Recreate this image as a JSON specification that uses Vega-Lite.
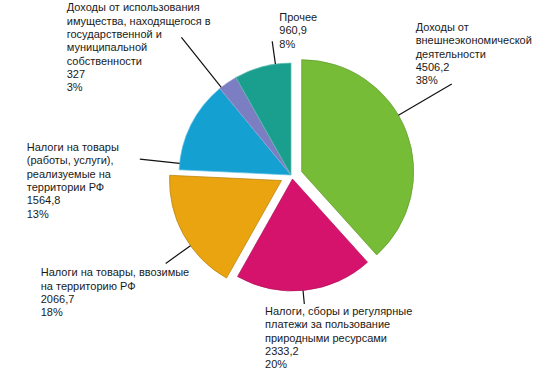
{
  "$schema": "https://vega.github.io/schema/vega-lite/v6.json",
  "width": 533,
  "height": 387,
  "autosize": {"type": "fit", "contains": "padding"},
  "padding": {"left": 49, "top": 0, "right": 0, "bottom": 35},
  "background": "white",
  "config": {"view": {"stroke": null}},
  "data": {
    "values": [
      {"cat": "Доходы от внешнеэкономической деятельности", "label": "Доходы от\nвнешнеэкономической\nдеятельности\n4506,2\n38%", "value": 4506.2, "order": 1},
      {"cat": "Налоги, сборы и регулярные платежи за пользование природными ресурсами", "label": "Налоги, сборы и регулярные\nплатежи за пользование\nприродными ресурсами\n2333,2\n20%", "value": 2333.2, "order": 2},
      {"cat": "Налоги на товары, ввозимые на территорию РФ", "label": "Налоги на товары, ввозимые\nна территорию РФ\n2066,7\n18%", "value": 2066.7, "order": 3},
      {"cat": "Налоги на товары (работы, услуги), реализуемые на территории РФ", "label": "Налоги на товары\n(работы, услуги),\nреализуемые на\nтерритории РФ\n1564,8\n13%", "value": 1564.8, "order": 4},
      {"cat": "Доходы от использования имущества, находящегося в государственной и муниципальной собственности", "label": "Доходы от использования\nимущества, находящегося в\nгосударственной и\nмуниципальной\nсобственности\n327\n3%", "value": 327, "order": 5},
      {"cat": "Прочее", "label": "Прочее\n960,9\n8%", "value": 960.9, "order": 6}
    ]
  },
  "transform": [
    {"stack": "value", "groupby": [], "sort": [{"field": "order", "order": "ascending"}], "as": ["v0", "v1"]}
  ],
  "encoding": {
    "theta": {"field": "v0", "type": "quantitative", "scale": {"nice": false, "zero": true}}
  },
  "layer": [
    {
      "transform": [{"filter": "datum.order >= 4"}],
      "mark": {"type": "arc", "outerRadius": 112, "strokeWidth": 0.7},
      "encoding": {
        "theta": {"field": "v1", "type": "quantitative"},
        "theta2": {"field": "v0"},
        "color": {"field": "order", "type": "nominal", "legend": null,
          "scale": {"domain": [1, 2, 3, 4, 5, 6], "range": ["#77BC37", "#D6136C", "#E9A40F", "#14A0D1", "#7B7EC1", "#1A9E8D"]}},
        "stroke": {"field": "order", "type": "nominal", "legend": null,
          "scale": {"domain": [1, 2, 3, 4, 5, 6], "range": ["#5E9A2A", "#B0105A", "#B5800C", "#5FC0E4", "#9A9CD2", "#5DBDB0"]}}
      }
    },
    {
      "transform": [{"filter": "datum.order == 1"}],
      "mark": {"type": "arc", "outerRadius": 112, "strokeWidth": 0.7, "xOffset": 10.7, "yOffset": -3.3},
      "encoding": {
        "theta": {"field": "v1", "type": "quantitative"},
        "theta2": {"field": "v0"},
        "color": {"field": "order", "type": "nominal", "legend": null},
        "stroke": {"field": "order", "type": "nominal", "legend": null}
      }
    },
    {
      "transform": [{"filter": "datum.order == 2"}],
      "mark": {"type": "arc", "outerRadius": 112, "strokeWidth": 0.7, "xOffset": 1.5, "yOffset": 4},
      "encoding": {
        "theta": {"field": "v1", "type": "quantitative"},
        "theta2": {"field": "v0"},
        "color": {"field": "order", "type": "nominal", "legend": null},
        "stroke": {"field": "order", "type": "nominal", "legend": null}
      }
    },
    {
      "transform": [{"filter": "datum.order == 3"}],
      "mark": {"type": "arc", "outerRadius": 112, "strokeWidth": 0.7, "xOffset": -9.5, "yOffset": 5.5},
      "encoding": {
        "theta": {"field": "v1", "type": "quantitative"},
        "theta2": {"field": "v0"},
        "color": {"field": "order", "type": "nominal", "legend": null},
        "stroke": {"field": "order", "type": "nominal", "legend": null}
      }
    },
    {
      "transform": [{"filter": "datum.order == 1"}],
      "layer": [
        {"mark": {"type": "arc", "filled": false, "stroke": "#111111", "strokeWidth": 1.2, "innerRadius": 112, "outerRadius": 173.8, "thetaOffset": 1.042, "theta2Offset": 1.042, "xOffset": 10.7, "yOffset": -3.3},
         "encoding": {"theta2": {"field": "v0"}}},
        {"mark": {"type": "text", "radius": 173.8, "thetaOffset": 1.042, "align": "left", "baseline": "top", "dx": -25.4, "dy": -65.3, "lineBreak": "\n", "lineHeight": 13.3, "font": "Liberation Sans", "fontSize": 11, "color": "#1a1a1a"},
         "encoding": {"text": {"field": "label"}}}
      ]
    },
    {
      "transform": [{"filter": "datum.order == 2"}],
      "layer": [
        {"mark": {"type": "arc", "filled": false, "stroke": "#111111", "strokeWidth": 1.2, "innerRadius": 112, "outerRadius": 125.6, "thetaOffset": 0.6395, "theta2Offset": 0.6395, "xOffset": 1.5, "yOffset": 4},
         "encoding": {"theta2": {"field": "v0"}}},
        {"mark": {"type": "text", "radius": 125.6, "thetaOffset": 0.6395, "align": "left", "baseline": "top", "dx": -37.8, "dy": 6, "lineBreak": "\n", "lineHeight": 13.3, "font": "Liberation Sans", "fontSize": 11, "color": "#1a1a1a"},
         "encoding": {"text": {"field": "label"}}}
      ]
    },
    {
      "transform": [{"filter": "datum.order == 3"}],
      "layer": [
        {"mark": {"type": "arc", "filled": false, "stroke": "#111111", "strokeWidth": 1.2, "innerRadius": 112, "outerRadius": 142.4, "thetaOffset": 0.4365, "theta2Offset": 0.4365, "xOffset": -9.5, "yOffset": 5.5},
         "encoding": {"theta2": {"field": "v0"}}},
        {"mark": {"type": "text", "radius": 142.4, "thetaOffset": 0.4365, "align": "left", "baseline": "top", "dx": -134.5, "dy": 9.6, "lineBreak": "\n", "lineHeight": 13.3, "font": "Liberation Sans", "fontSize": 11, "color": "#1a1a1a"},
         "encoding": {"text": {"field": "label"}}}
      ]
    },
    {
      "transform": [{"filter": "datum.order == 4"}],
      "layer": [
        {"mark": {"type": "arc", "filled": false, "stroke": "#111111", "strokeWidth": 1.2, "innerRadius": 112, "outerRadius": 152, "thetaOffset": 0.0583, "theta2Offset": 0.0583},
         "encoding": {"theta2": {"field": "v0"}}},
        {"mark": {"type": "text", "radius": 152, "thetaOffset": 0.0583, "align": "left", "baseline": "top", "dx": -113.1, "dy": -17.1, "lineBreak": "\n", "lineHeight": 13.3, "font": "Liberation Sans", "fontSize": 11, "color": "#1a1a1a"},
         "encoding": {"text": {"field": "label"}}}
      ]
    },
    {
      "transform": [{"filter": "datum.order == 5"}],
      "layer": [
        {"mark": {"type": "arc", "filled": false, "stroke": "#111111", "strokeWidth": 1.2, "innerRadius": 112, "outerRadius": 176, "thetaOffset": 0.0162, "theta2Offset": 0.0162},
         "encoding": {"theta2": {"field": "v0"}}},
        {"mark": {"type": "text", "radius": 176, "thetaOffset": 0.0162, "align": "left", "baseline": "top", "dx": -114.7, "dy": -34.8, "lineBreak": "\n", "lineHeight": 13.3, "font": "Liberation Sans", "fontSize": 11, "color": "#1a1a1a"},
         "encoding": {"text": {"field": "label"}}}
      ]
    },
    {
      "transform": [{"filter": "datum.order == 6"}],
      "layer": [
        {"mark": {"type": "arc", "filled": false, "stroke": "#111111", "strokeWidth": 1.2, "innerRadius": 112, "outerRadius": 135, "thetaOffset": 0.3738, "theta2Offset": 0.3738},
         "encoding": {"theta2": {"field": "v0"}}},
        {"mark": {"type": "text", "radius": 135, "thetaOffset": 0.3738, "align": "left", "baseline": "top", "dx": 7.1, "dy": -29.3, "lineBreak": "\n", "lineHeight": 13.3, "font": "Liberation Sans", "fontSize": 11, "color": "#1a1a1a"},
         "encoding": {"text": {"field": "label"}}}
      ]
    }
  ]
}
